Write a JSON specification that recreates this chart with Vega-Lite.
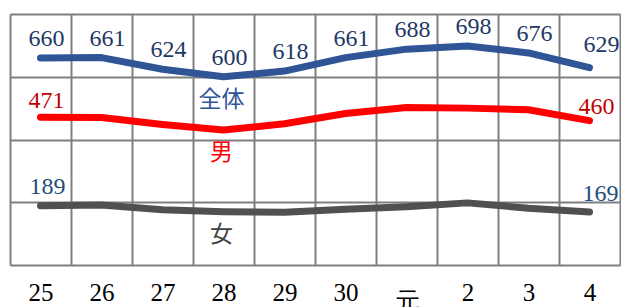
{
  "$schema": "https://vega.github.io/schema/vega-lite/v6.json",
  "width": 610,
  "height": 251,
  "autosize": {"type": "none"},
  "padding": {"left": 10, "top": 14, "right": 1, "bottom": 42},
  "background": "white",
  "config": {"view": {"stroke": null}},
  "datasets": {
    "main": [
      {"year": "25", "series": "全体", "value": 660},
      {"year": "26", "series": "全体", "value": 661},
      {"year": "27", "series": "全体", "value": 624},
      {"year": "28", "series": "全体", "value": 600},
      {"year": "29", "series": "全体", "value": 618},
      {"year": "30", "series": "全体", "value": 661},
      {"year": "元", "series": "全体", "value": 688},
      {"year": "2", "series": "全体", "value": 698},
      {"year": "3", "series": "全体", "value": 676},
      {"year": "4", "series": "全体", "value": 629},
      {"year": "25", "series": "男", "value": 471},
      {"year": "26", "series": "男", "value": 470},
      {"year": "27", "series": "男", "value": 448},
      {"year": "28", "series": "男", "value": 430},
      {"year": "29", "series": "男", "value": 450},
      {"year": "30", "series": "男", "value": 483},
      {"year": "元", "series": "男", "value": 502},
      {"year": "2", "series": "男", "value": 500},
      {"year": "3", "series": "男", "value": 495},
      {"year": "4", "series": "男", "value": 460},
      {"year": "25", "series": "女", "value": 189},
      {"year": "26", "series": "女", "value": 191},
      {"year": "27", "series": "女", "value": 176},
      {"year": "28", "series": "女", "value": 170},
      {"year": "29", "series": "女", "value": 168},
      {"year": "30", "series": "女", "value": 178},
      {"year": "元", "series": "女", "value": 186},
      {"year": "2", "series": "女", "value": 198},
      {"year": "3", "series": "女", "value": 181},
      {"year": "4", "series": "女", "value": 169}
    ],
    "names": [
      {"year": "28", "series": "全体", "value": 526},
      {"year": "28", "series": "男", "value": 357},
      {"year": "28", "series": "女", "value": 96}
    ]
  },
  "encoding": {
    "x": {
      "field": "year",
      "type": "ordinal",
      "sort": ["25", "26", "27", "28", "29", "30", "元", "2", "3", "4"],
      "scale": {"type": "band", "paddingInner": 0, "paddingOuter": 0},
      "axis": {
        "title": null,
        "labelAngle": 0,
        "tickBand": "extent",
        "grid": true,
        "gridColor": "#7f7f7f",
        "gridWidth": 2,
        "ticks": false,
        "domain": false,
        "labelFont": "Liberation Sans Narrow",
        "labelFontSize": 25,
        "labelColor": "#000000",
        "labelPadding": {"condition": {"test": "datum.value == '元'", "value": 24}, "value": 15}
      }
    },
    "y": {
      "field": "value",
      "type": "quantitative",
      "scale": {"domain": [0, 800], "nice": false, "zero": true},
      "axis": {
        "title": null,
        "values": [0, 200, 400, 600, 800],
        "grid": true,
        "gridColor": "#7f7f7f",
        "gridWidth": 2,
        "labels": false,
        "ticks": false,
        "domain": false
      }
    }
  },
  "layer": [
    {
      "data": {"name": "main"},
      "mark": {"type": "line", "strokeWidth": 7, "strokeCap": "round", "strokeJoin": "round"},
      "encoding": {
        "color": {
          "field": "series",
          "type": "nominal",
          "scale": {"domain": ["全体", "男", "女"], "range": ["#2F5597", "#FF0000", "#505050"]},
          "legend": null
        }
      }
    },
    {
      "data": {"name": "main"},
      "transform": [{"filter": "datum.series == '全体' && datum.year != '4'"}],
      "mark": {"type": "text", "dx": 6, "dy": -19, "color": "#1F3864", "font": "Liberation Sans Narrow", "fontSize": 24},
      "encoding": {"text": {"field": "value", "type": "quantitative"}}
    },
    {
      "data": {"name": "main"},
      "transform": [{"filter": "datum.series == '全体' && datum.year == '4'"}],
      "mark": {"type": "text", "dx": 12, "dy": -23, "color": "#1F3864", "font": "Liberation Sans Narrow", "fontSize": 24},
      "encoding": {"text": {"field": "value", "type": "quantitative"}}
    },
    {
      "data": {"name": "main"},
      "transform": [{"filter": "datum.series == '男' && datum.year == '25'"}],
      "mark": {"type": "text", "dx": 6, "dy": -16, "color": "#C00000", "font": "Liberation Sans Narrow", "fontSize": 24},
      "encoding": {"text": {"field": "value", "type": "quantitative"}}
    },
    {
      "data": {"name": "main"},
      "transform": [{"filter": "datum.series == '男' && datum.year == '4'"}],
      "mark": {"type": "text", "dx": 7, "dy": -14, "color": "#C00000", "font": "Liberation Sans Narrow", "fontSize": 24},
      "encoding": {"text": {"field": "value", "type": "quantitative"}}
    },
    {
      "data": {"name": "main"},
      "transform": [{"filter": "datum.series == '女' && datum.year == '25'"}],
      "mark": {"type": "text", "dx": 7, "dy": -19, "color": "#1F4E79", "font": "Liberation Sans Narrow", "fontSize": 24},
      "encoding": {"text": {"field": "value", "type": "quantitative"}}
    },
    {
      "data": {"name": "main"},
      "transform": [{"filter": "datum.series == '女' && datum.year == '4'"}],
      "mark": {"type": "text", "dx": 11, "dy": -18, "color": "#1F4E79", "font": "Liberation Sans Narrow", "fontSize": 24},
      "encoding": {"text": {"field": "value", "type": "quantitative"}}
    },
    {
      "data": {"name": "names"},
      "mark": {"type": "text", "font": "Noto Sans CJK JP", "fontSize": 23, "dx": -2},
      "encoding": {
        "text": {"field": "series", "type": "nominal"},
        "color": {
          "condition": [
            {"test": "datum.series == '全体'", "value": "#2F5597"},
            {"test": "datum.series == '男'", "value": "#FF0000"}
          ],
          "value": "#404040"
        }
      }
    }
  ]
}
